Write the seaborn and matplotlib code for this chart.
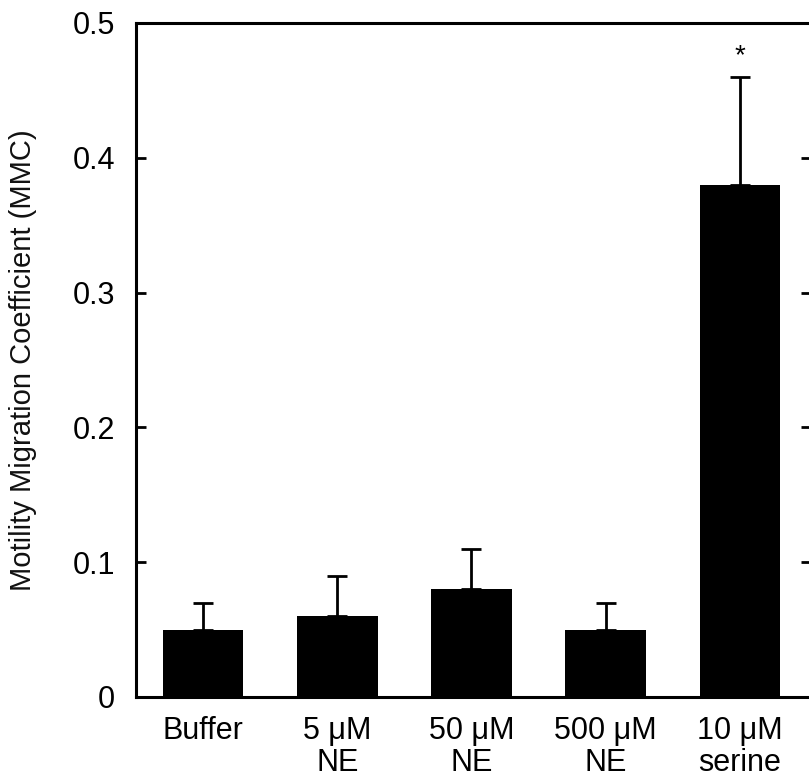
import matplotlib
matplotlib.use("Agg")
import matplotlib.pyplot as plt
import seaborn as sns
import numpy as np
import pandas as pd

categories = ["Buffer", "5 μM\nNE", "50 μM\nNE", "500 μM\nNE", "10 μM\nserine"]
values = [0.05, 0.06, 0.08, 0.05, 0.38]
errors = [0.02, 0.03, 0.03, 0.02, 0.08]
star_labels = ["", "", "", "", "*"]
y_ticks = [0, 0.1, 0.2, 0.3, 0.4, 0.5]
y_tick_labels = ["0", "0.1", "0.2", "0.3", "0.4", "0.5"]

sns.set_theme(style="white")
plt.rcParams['font.family'] = ['Liberation Sans', 'DejaVu Sans']

fig = plt.figure(figsize=(8.09, 7.78), dpi=100)
ax = fig.add_axes([136/809, 81/778, (811-136)/809, (697-23)/778])

df = pd.DataFrame({"cat": categories, "val": values})
sns.barplot(data=df, x="cat", y="val", color="black", width=0.6,
            errorbar=None, ax=ax, saturation=1, edgecolor="black", linewidth=0)

xs = np.arange(len(categories))
ax.errorbar(xs, values, yerr=[np.zeros(len(errors)), errors], fmt="none",
            ecolor="black", elinewidth=2, capsize=7, capthick=2)

for x, v, e, s in zip(xs, values, errors, star_labels):
    if s:
        ax.text(x, v + e + 0.006, s, ha="center", va="bottom", fontsize=20, color="black")

ax.set_xlim(-0.5, 4.53)
ax.set_ylim(0, 0.5)
ax.set_yticks(y_ticks)
ax.set_yticklabels(y_tick_labels)
ax.set_xlabel("")
ax.set_ylabel("Motility Migration Coefficient (MMC)", fontsize=21, color="#111111")
ax.yaxis.set_label_coords(-0.146, 0.5)

for sp in ax.spines.values():
    sp.set_visible(True)
    sp.set_color("black")
    sp.set_linewidth(2.2)

ax.tick_params(axis="y", which="both", direction="in", length=7, width=2,
               left=True, right=True, labelsize=22, pad=15, colors="black")
ax.tick_params(axis="x", which="both", bottom=False, top=False, labelsize=22, pad=8, colors="black")
for lbl in ax.get_xticklabels():
    lbl.set_linespacing(1.05)

fig.savefig("out.png", dpi=100)
